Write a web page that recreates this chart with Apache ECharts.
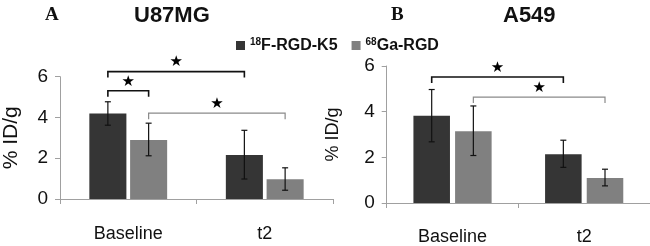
<!DOCTYPE html>
<html>
<head>
<meta charset="utf-8">
<script src="https://cdn.jsdelivr.net/npm/echarts@6/dist/echarts.min.js"></script>
<style>
html,body{margin:0;padding:0;background:#fff;}
#c{width:650px;height:246px;}
</style>
</head>
<body>
<div id="c"></div>
<script>
// ---- data ----
var categories = ['Baseline', 't2'];
var seriesNames = ['18F-RGD-K5', '68Ga-RGD'];
var yTicks = [0, 2, 4, 6];

// Panel A: U87MG
var u87Dark = [4.20, 2.16];
var u87Gray = [2.89, 0.97];
var u87DarkLow = [3.62, 0.98];
var u87DarkHigh = [4.77, 3.37];
var u87GrayLow = [2.12, 0.43];
var u87GrayHigh = [3.72, 1.53];
// brackets: [cat1, series1, cat2, series2, level, colourIndex]
var u87Brackets = [[0, 0, 1, 0, 6.25, 0], [0, 0, 0, 1, 5.31, 0], [0, 1, 1, 1, 4.21, 1]];

// Panel B: A549
var a549Dark = [3.82, 2.13];
var a549Gray = [3.14, 1.10];
var a549DarkLow = [2.68, 1.56];
var a549DarkHigh = [4.97, 2.75];
var a549GrayLow = [2.08, 0.75];
var a549GrayHigh = [4.25, 1.48];
var a549Brackets = [[0, 0, 1, 0, 5.52, 0], [0, 1, 1, 1, 4.64, 1]];

// ---- styling ----
var DARK = '#353535', GRAY = '#808080', AXIS = '#a0a0a0';
var FONT = "'Liberation Sans', Arial, sans-serif";
var panels = [
  {catGap: 0.43, barGap: 0.10},
  {catGap: 0.406, barGap: 0.14}
];

function barOffset(api, p, s) {
  var catW = api.size([1, 0])[0];
  var band = catW * (1 - panels[p].catGap);
  var bw = band / (2 + panels[p].barGap);
  return (s === 0 ? -1 : 1) * bw * (1 + panels[p].barGap) / 2;
}

function errData(dl, dh, gl, gh) {
  var out = [];
  for (var i = 0; i < categories.length; i++) {
    out.push([i, dl[i], dh[i], 0]);
    out.push([i, gl[i], gh[i], 1]);
  }
  return out;
}

function errRender(p) {
  return function (params, api) {
    var cat = api.value(0), lo = api.value(1), hi = api.value(2), s = api.value(3);
    var off = barOffset(api, p, s);
    var a = api.coord([cat, lo]), b = api.coord([cat, hi]);
    var x = a[0] + off, cw = 3;
    var st = {stroke: '#111', lineWidth: 1.2, fill: null};
    return {type: 'group', children: [
      {type: 'line', shape: {x1: x, y1: a[1], x2: x, y2: b[1]}, style: st},
      {type: 'line', shape: {x1: x - cw, y1: a[1], x2: x + cw, y2: a[1]}, style: st},
      {type: 'line', shape: {x1: x - cw, y1: b[1], x2: x + cw, y2: b[1]}, style: st}
    ]};
  };
}

function brRender(p) {
  return function (params, api) {
    var c1 = api.value(0), s1 = api.value(1), c2 = api.value(2), s2 = api.value(3), lv = api.value(4), ci = api.value(5);
    var p1 = api.coord([c1, lv]), p2 = api.coord([c2, lv]);
    var x1 = p1[0] + barOffset(api, p, s1), x2 = p2[0] + barOffset(api, p, s2), y = p1[1];
    var col = ci === 0 ? '#111' : '#8a8a8a';
    var leg = 6;
    return {type: 'group', children: [
      {type: 'polyline', shape: {points: [[x1, y + leg], [x1, y], [x2, y], [x2, y + leg]]},
        style: {stroke: col, lineWidth: ci === 0 ? 1.6 : 1.2, fill: null}},
      {type: 'text', x: (x1 + x2) / 2, y: y - 9,
        style: {text: '\u2605', fill: '#000', font: '15px DejaVu Sans', textAlign: 'center', textVerticalAlign: 'middle'}}
    ]};
  };
}

var chart = echarts.init(document.getElementById('c'), null, {renderer: 'canvas'});

function yAxis(gi, nameSize, nameGap) {
  return {
    type: 'value', gridIndex: gi, min: 0, max: 6, interval: 2,
    name: '% ID/g', nameLocation: 'middle', nameGap: nameGap, nameRotate: 90,
    nameTextStyle: {fontFamily: FONT, fontSize: nameSize, color: '#111'},
    axisLine: {show: true, lineStyle: {color: AXIS, width: 1}},
    axisTick: {show: true, inside: false, length: 5, lineStyle: {color: AXIS}},
    axisLabel: {fontFamily: FONT, fontSize: 19, color: '#111', margin: 12,
      formatter: function (v) { return yTicks.indexOf(v) >= 0 ? String(v) : ''; }},
    splitLine: {show: false}
  };
}
function xAxis(gi, margin) {
  return {
    type: 'category', gridIndex: gi, data: categories,
    axisLine: {show: true, lineStyle: {color: AXIS, width: 1}},
    axisTick: {show: true, length: 5, lineStyle: {color: AXIS}},
    axisLabel: {fontFamily: FONT, fontSize: 18, color: '#111', margin: margin}
  };
}

var legendRich = {
  sup: {fontSize: 10, fontWeight: 'bold', fontFamily: FONT, color: '#111', padding: [0, 0, 7, 0]},
  b: {fontSize: 16, fontWeight: 'bold', fontFamily: FONT, color: '#111'}
};

chart.setOption({
  animation: false,
  backgroundColor: '#fff',
  title: [
    {text: 'A', left: 40, top: 1, textStyle: {fontFamily: "'Liberation Serif', serif", fontWeight: 'bold', fontSize: 19, color: '#111'}},
    {text: 'U87MG', left: 129, top: 0, textStyle: {fontFamily: FONT, fontWeight: 'bold', fontSize: 22, color: '#111'}},
    {text: 'B', left: 386, top: 1, textStyle: {fontFamily: "'Liberation Serif', serif", fontWeight: 'bold', fontSize: 19, color: '#111'}},
    {text: 'A549', left: 498, top: 0, textStyle: {fontFamily: FONT, fontWeight: 'bold', fontSize: 22, color: '#111'}}
  ],
  legend: {
    left: 231, top: 32, itemWidth: 9, itemHeight: 9, itemGap: 14, icon: 'rect',
    data: seriesNames,
    formatter: function (n) { return n === seriesNames[0] ? '{sup|18}{b|F-RGD-K5}' : '{sup|68}{b|Ga-RGD}'; },
    textStyle: {rich: legendRich}
  },
  grid: [
    {left: 53, top: 76.7, width: 280, height: 122.3},
    {left: 386.7, top: 66, width: 264, height: 139.7}
  ],
  xAxis: [xAxis(0, 26), xAxis(1, 25)],
  yAxis: [yAxis(0, 21, 38), yAxis(1, 18, 45)],
  series: [
    {name: seriesNames[0], type: 'bar', xAxisIndex: 0, yAxisIndex: 0, data: u87Dark, itemStyle: {color: DARK}, barCategoryGap: '43%', barGap: '10%'},
    {name: seriesNames[1], type: 'bar', xAxisIndex: 0, yAxisIndex: 0, data: u87Gray, itemStyle: {color: GRAY}, barCategoryGap: '43%', barGap: '10%'},
    {name: seriesNames[0], type: 'bar', xAxisIndex: 1, yAxisIndex: 1, data: a549Dark, itemStyle: {color: DARK}, barCategoryGap: '40.6%', barGap: '14%'},
    {name: seriesNames[1], type: 'bar', xAxisIndex: 1, yAxisIndex: 1, data: a549Gray, itemStyle: {color: GRAY}, barCategoryGap: '40.6%', barGap: '14%'},
    {type: 'custom', xAxisIndex: 0, yAxisIndex: 0, renderItem: errRender(0), data: errData(u87DarkLow, u87DarkHigh, u87GrayLow, u87GrayHigh), z: 5, clip: false},
    {type: 'custom', xAxisIndex: 1, yAxisIndex: 1, renderItem: errRender(1), data: errData(a549DarkLow, a549DarkHigh, a549GrayLow, a549GrayHigh), z: 5, clip: false},
    {type: 'custom', xAxisIndex: 0, yAxisIndex: 0, renderItem: brRender(0), data: u87Brackets, z: 5, clip: false},
    {type: 'custom', xAxisIndex: 1, yAxisIndex: 1, renderItem: brRender(1), data: a549Brackets, z: 5, clip: false}
  ]
});
</script>
</body>
</html>
